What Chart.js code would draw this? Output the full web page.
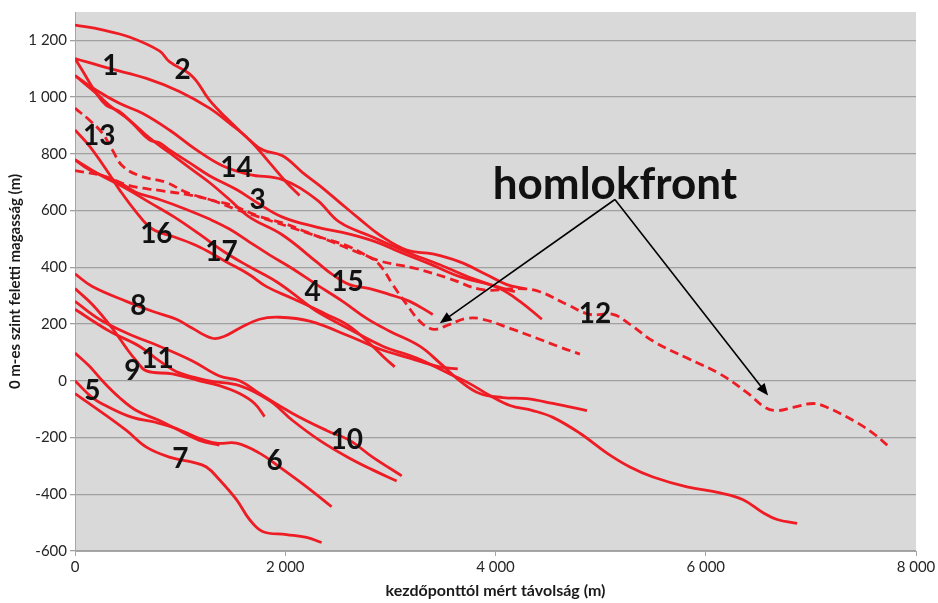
<!DOCTYPE html>
<html>
<head>
<meta charset="utf-8">
<script src="https://cdn.jsdelivr.net/npm/chart.js@4.4.1/dist/chart.umd.min.js"></script>
<style>
  body { margin: 0; background: #fff; }
  #wrap { width: 938px; height: 603px; }
</style>
</head>
<body>
<div id="wrap"><canvas id="myChart"></canvas></div>
<script>
/* profiles: distance (m) and height (m) */
const line1X = [0, 327, 679, 993, 1279, 1469, 1660, 1850, 2012, 2136];
const line1Y = [1136, 1101, 1066, 1020, 961, 908, 849, 769, 699, 653];
const line2X = [0, 260, 517, 803, 898, 1117, 1279, 1441, 1660, 1784, 1974, 2165, 2327, 2517, 2708, 2898, 3155, 3403, 3660, 3917, 4108, 4279];
const line2Y = [1254, 1237, 1212, 1163, 1125, 1073, 989, 926, 849, 814, 793, 734, 688, 629, 570, 514, 461, 447, 419, 374, 339, 325];
const line3X = [0, 70, 203, 298, 422, 546, 708, 803, 898, 1088, 1279, 1536, 1727, 1974, 2298, 2612, 2869, 3089, 3374, 3660, 3946, 4184];
const line3Y = [1136, 1094, 1013, 971, 950, 908, 849, 839, 814, 769, 723, 674, 629, 577, 542, 517, 489, 454, 412, 367, 339, 314];
const line4X = [0, 231, 470, 708, 946, 1184, 1422, 1660, 1917, 2136, 2298, 2612, 2927, 3250, 3565, 3755, 3946, 4137, 4355, 4546, 4803, 5060, 5279, 5498, 5822, 6136, 6355, 6546, 6679, 6869];
const line4Y = [779, 727, 681, 629, 577, 517, 454, 402, 349, 290, 245, 182, 122, 80, 24, -10, -52, -87, -105, -129, -185, -255, -304, -339, -374, -395, -419, -465, -489, -503];
const line5X = [0, 136, 260, 422, 584, 803, 993, 1184, 1374];
const line5Y = [98, 52, 0, -59, -105, -140, -175, -210, -227];
const line6X = [0, 165, 327, 546, 774, 965, 1155, 1346, 1536, 1755, 1946, 2203, 2441];
const line6Y = [0, -59, -94, -129, -147, -168, -199, -220, -220, -255, -304, -374, -444];
const line7X = [0, 231, 489, 679, 898, 1117, 1250, 1374, 1536, 1660, 1784, 2012, 2203, 2346];
const line7Y = [-45, -105, -175, -234, -269, -287, -304, -349, -419, -489, -531, -542, -552, -570];
const line8X = [0, 165, 489, 736, 965, 1117, 1307, 1422, 1565, 1755, 1946, 2232, 2612, 2898, 3184, 3470, 3641];
const line8Y = [377, 332, 280, 245, 217, 185, 150, 157, 185, 217, 224, 210, 157, 112, 80, 49, 42];
const line9X = [0, 165, 355, 489, 584, 679, 927, 1184, 1374, 1565, 1708, 1803];
const line9Y = [325, 269, 185, 115, 70, 35, 24, 0, -17, -45, -80, -126];
const line10X = [0, 327, 612, 803, 993, 1279, 1565, 1850, 2070, 2327, 2612, 2831, 3060];
const line10Y = [252, 175, 122, 70, 28, 0, -17, -70, -140, -210, -273, -314, -353];
const line11X = [0, 231, 517, 803, 1117, 1374, 1565, 1755, 2070, 2393, 2612, 2831, 3108];
const line11Y = [280, 217, 164, 122, 70, 17, 0, -45, -115, -175, -210, -269, -335];
const line12X = [0, 260, 517, 803, 1060, 1279, 1536, 1755, 2041, 2327, 2612, 2869, 3250, 3565, 3879, 4232, 4422, 4679, 4898, 5117, 5279, 5498, 5822, 6136, 6393, 6565, 6679, 6831, 7022, 7155, 7403, 7593, 7727];
const line12Y = [741, 723, 688, 671, 657, 639, 604, 577, 542, 507, 472, 426, 395, 360, 321, 325, 314, 269, 234, 234, 199, 140, 80, 24, -42, -94, -105, -94, -80, -94, -140, -185, -227];
const line13X = [0, 136, 260, 355, 450, 612, 870, 1060, 1279, 1498, 1727, 2012, 2203, 2450, 2679, 2831, 2927, 3022, 3155, 3279, 3374, 3441, 3565, 3727, 3879, 4137, 4393, 4612, 4803];
const line13Y = [961, 919, 873, 814, 758, 723, 699, 664, 639, 618, 583, 552, 524, 489, 454, 430, 395, 339, 269, 210, 185, 182, 199, 220, 217, 185, 150, 119, 94];
const line14X = [0, 203, 422, 641, 898, 1155, 1403, 1660, 1974, 2298, 2517, 2831, 3155, 3470, 3784, 4041, 4232, 4441];
const line14Y = [1076, 1024, 978, 943, 884, 814, 758, 727, 709, 639, 559, 507, 454, 409, 360, 325, 280, 217];
const line15X = [0, 203, 327, 517, 708, 898, 1088, 1279, 1469, 1660, 1974, 2298, 2450, 2612, 2803, 2993, 3184, 3403];
const line15Y = [1076, 1013, 971, 919, 856, 804, 751, 699, 639, 577, 514, 419, 374, 339, 325, 304, 280, 234];
const line16X = [0, 136, 298, 422, 584, 736, 946, 1184, 1441, 1660, 1822, 2070, 2393, 2612, 2831, 2946, 3041];
const line16Y = [884, 828, 744, 674, 594, 535, 507, 472, 419, 374, 332, 290, 234, 192, 122, 80, 49];
const line17X = [0, 136, 422, 584, 803, 1060, 1279, 1469, 1660, 1850, 2070, 2298, 2546, 2774, 2993, 3279, 3470, 3660, 3851, 4070, 4298, 4546, 4870];
const line17Y = [779, 744, 699, 664, 639, 604, 570, 535, 489, 444, 395, 339, 280, 220, 175, 122, 63, 0, -45, -59, -63, -80, -105];

/* number labels next to the profiles */
const labelNames = ['1', '2', '13', '14', '3', '16', '17', '15', '4', '8', '11', '9', '5', '7', '6', '10', '12'];
const labelX = [337, 1023, 231, 1536, 1736, 774, 1393, 2593, 2260, 603, 784, 546, 165, 1003, 1898, 2584, 4946];
const labelY = [1108, 1097, 863, 751, 636, 517, 454, 349, 314, 262, 77, 35, -35, -276, -283, -210, 234];

/* "homlokfront" note and its arrows: text, apex, two tips */
const noteText = 'homlokfront';
const notePos = [5136, 692];
const arrowFrom = [5136, 639];
const arrowTips = [[3470, 203], [6593, -52]];

const yTicks = [-600, -400, -200, 0, 200, 400, 600, 800, 1000, 1200];
const xTicks = [0, 2000, 4000, 6000, 8000];

const series = [
    [line1X, line1Y, false], [line2X, line2Y, false], [line3X, line3Y, false],
    [line4X, line4Y, false], [line5X, line5Y, false], [line6X, line6Y, false],
    [line7X, line7Y, false], [line8X, line8Y, false], [line9X, line9Y, false],
    [line10X, line10Y, false], [line11X, line11Y, false], [line12X, line12Y, true],
    [line13X, line13Y, true], [line14X, line14Y, false], [line15X, line15Y, false],
    [line16X, line16Y, false], [line17X, line17Y, false]
];

const RED = '#ee1c24';

const datasets = series.map((s, i) => ({
    label: 'profil ' + (i + 1),
    data: s[0].map((x, j) => ({ x: x, y: s[1][j] })),
    borderColor: RED,
    borderWidth: 2.8,
    borderDash: s[2] ? [9, 5] : [],
    pointRadius: 0,
    showLine: true,
    fill: false,
    tension: 0.4
}));

const fmt = v => String(v).replace(/\B(?=(\d{3})+(?!\d))/g, ' ');

const plotBg = {
    id: 'plotBg',
    beforeDraw(chart) {
        const a = chart.chartArea, c = chart.ctx;
        c.save();
        c.fillStyle = '#d9d9d9';
        c.fillRect(a.left, a.top, a.right - a.left, a.bottom - a.top);
        c.restore();
    }
};

const notes = {
    id: 'notes',
    afterDatasetsDraw(chart) {
        const c = chart.ctx, xs = chart.scales.x, ys = chart.scales.y;
        c.save();
        c.fillStyle = '#111';
        c.textAlign = 'center';
        c.textBaseline = 'middle';
        c.font = 'bold 28px Lato';
        labelNames.forEach((t, i) => {
            c.fillText(t, xs.getPixelForValue(labelX[i]), ys.getPixelForValue(labelY[i]));
        });
        c.font = 'bold 44px Lato';
        c.fillText(noteText, xs.getPixelForValue(notePos[0]), ys.getPixelForValue(notePos[1]));

        const fx = xs.getPixelForValue(arrowFrom[0]), fy = ys.getPixelForValue(arrowFrom[1]);
        c.strokeStyle = '#000';
        c.fillStyle = '#000';
        c.lineWidth = 1.6;
        arrowTips.forEach(t => {
            const tx = xs.getPixelForValue(t[0]), ty = ys.getPixelForValue(t[1]);
            const ang = Math.atan2(ty - fy, tx - fx);
            c.beginPath();
            c.moveTo(fx, fy);
            c.lineTo(tx - 8 * Math.cos(ang), ty - 8 * Math.sin(ang));
            c.stroke();
            c.beginPath();
            c.moveTo(tx, ty);
            c.lineTo(tx - 12 * Math.cos(ang) + 5 * Math.sin(ang), ty - 12 * Math.sin(ang) - 5 * Math.cos(ang));
            c.lineTo(tx - 12 * Math.cos(ang) - 5 * Math.sin(ang), ty - 12 * Math.sin(ang) + 5 * Math.cos(ang));
            c.closePath();
            c.fill();
        });
        c.restore();
    }
};

new Chart(document.getElementById('myChart'), {
    type: 'scatter',
    data: { datasets: datasets },
    plugins: [plotBg, notes],
    options: {
        responsive: true,
        maintainAspectRatio: false,
        animation: false,
        layout: { padding: { top: 7, right: 22, left: 0, bottom: 0 } },
        plugins: {
            legend: { display: false },
            tooltip: { enabled: false }
        },
        scales: {
            x: {
                type: 'linear',
                min: 0,
                max: 8000,
                afterBuildTicks: s => { s.ticks = xTicks.map(v => ({ value: v })); },
                afterFit: s => { s.height = 52; },
                border: { display: true, color: '#a6a6a6', width: 1 },
                grid: { drawOnChartArea: false, drawTicks: true, tickLength: 5, color: '#a6a6a6' },
                ticks: {
                    color: '#262626',
                    font: { family: 'Lato', size: 15 },
                    padding: 2,
                    maxRotation: 0,
                    callback: v => fmt(v)
                },
                title: {
                    display: true,
                    text: 'kezdőponttól mért távolság (m)',
                    color: '#1a1a1a',
                    font: { family: 'Lato', size: 16, weight: 'bold' },
                    padding: { top: 0, bottom: 3 }
                }
            },
            y: {
                type: 'linear',
                min: -600,
                max: 1300,
                afterBuildTicks: s => { s.ticks = yTicks.map(v => ({ value: v })); },
                afterFit: s => { s.width = 75; },
                border: { display: true, color: '#a6a6a6', width: 1 },
                grid: { color: '#a0a0a0', lineWidth: 1.3, drawTicks: true, tickLength: 5 },
                ticks: {
                    color: '#262626',
                    font: { family: 'Lato', size: 15 },
                    padding: 3,
                    callback: v => fmt(v)
                },
                title: {
                    display: true,
                    text: '0 m-es szint feletti magasság (m)',
                    color: '#1a1a1a',
                    font: { family: 'Lato', size: 15, weight: 'bold' },
                    padding: { top: 6, bottom: 0 }
                }
            }
        }
    }
});
</script>
</body>
</html>
